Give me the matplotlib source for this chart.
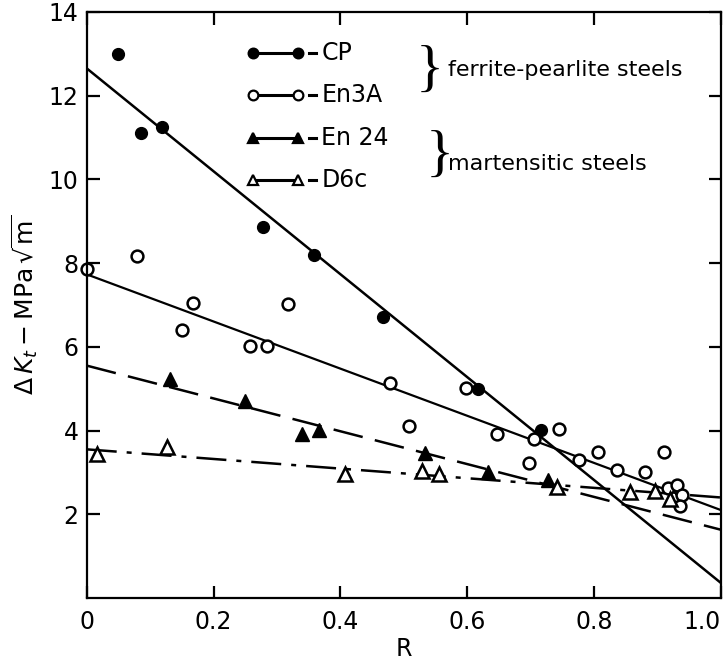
import numpy as np
import matplotlib
matplotlib.use('Agg')
import matplotlib.pyplot as plt

plt.rcParams.update({'font.family': 'DejaVu Sans',
                     'font.size': 16,
                     'axes.linewidth': 1.6,
                     'xtick.direction': 'in',
                     'ytick.direction': 'in',
                     'xtick.major.size': 9,
                     'ytick.major.size': 9,
                     'xtick.major.width': 1.6,
                     'ytick.major.width': 1.6,
                     'xtick.major.pad': 9,
                     'ytick.major.pad': 6,
                     'mathtext.fontset': 'dejavusans'})

# measured points, R vs threshold dK
cp_r = [0.05, 0.085, 0.118, 0.278, 0.358, 0.467, 0.617, 0.716]
cp_k = [13.0, 11.1, 11.25, 8.85, 8.2, 6.72, 5.0, 4.02]

en3a_r = [0.0, 0.079, 0.15, 0.167, 0.257, 0.284, 0.317, 0.478, 0.508, 0.598,
          0.647, 0.697, 0.705, 0.745, 0.776, 0.806, 0.837, 0.88, 0.91,
          0.917, 0.931, 0.938, 0.935]
en3a_k = [7.85, 8.18, 6.41, 7.05, 6.03, 6.03, 7.03, 5.14, 4.11, 5.02,
          3.92, 3.23, 3.8, 4.04, 3.3, 3.49, 3.06, 3.01, 3.49,
          2.63, 2.7, 2.46, 2.2]

en24_r = [0.131, 0.249, 0.339, 0.366, 0.533, 0.633, 0.727]
en24_k = [5.24, 4.71, 3.92, 4.02, 3.47, 3.01, 2.82]

d6c_r = [0.016, 0.126, 0.407, 0.528, 0.555, 0.741, 0.856, 0.896, 0.92]
d6c_k = [3.44, 3.61, 2.97, 3.04, 2.97, 2.66, 2.54, 2.56, 2.37]

# straight-line fits, value at R=0 and R=1
fit_r = [0.0, 1.0]
cp_fit = [12.65, 0.36]
en3a_fit = [7.73, 2.1]
en24_fit = [5.55, 1.63]
d6c_fit = [3.55, 2.4]

fig = plt.figure(figsize=(7.23, 6.6), dpi=100)
ax = fig.add_axes([0.120, 0.094, 0.877, 0.888])

ax.plot(fit_r, cp_fit, 'k-', lw=1.8)
ax.plot(fit_r, en3a_fit, 'k-', lw=1.6)
ax.plot(fit_r, en24_fit, 'k-', lw=1.8, dashes=(12, 5))
ax.plot(fit_r, d6c_fit, 'k-', lw=1.8, dashes=(12, 4, 2, 4))

ax.plot(cp_r, cp_k, 'ko', ms=8.5, ls='none', clip_on=False)
ax.plot(en3a_r, en3a_k, 'o', ms=8.5, mfc='white', mec='k', mew=1.8,
        ls='none', clip_on=False)
ax.plot(en24_r, en24_k, 'k^', ms=9.5, ls='none', clip_on=False)
ax.plot(d6c_r, d6c_k, '^', ms=9.5, mfc='white', mec='k', mew=1.8,
        ls='none', clip_on=False)

ax.set_xlim(0, 1.0)
ax.set_ylim(0, 14)
ax.set_xticks([0, 0.2, 0.4, 0.6, 0.8, 1.0])
ax.set_xticklabels(['0', '0.2', '0.4', '0.6', '0.8', '1.0'])
ax.set_yticks([2, 4, 6, 8, 10, 12, 14])
ax.tick_params(top=True, right=True, labelsize=17)
# last label sits against the right edge of the figure
ax.get_xticklabels()[-1].set_horizontalalignment('right')

ax.set_xlabel('R', fontsize=17, labelpad=2)
ax.set_ylabel(r'$\Delta\,K_t-\mathrm{MPa}\,\sqrt{\mathrm{m}}$', fontsize=18,
              labelpad=6)

# hand-drawn style key
key = [('CP', dict(marker='o', mfc='k', mec='k')),
       ('En3A', dict(marker='o', mfc='white', mec='k')),
       ('En 24', dict(marker='^', mfc='k', mec='k')),
       ('D6c', dict(marker='^', mfc='white', mec='k'))]
for i, (lab, mk) in enumerate(key):
    yy = 0.930 - i * 0.0725
    ax.plot([0.262, 0.333], [yy, yy], color='k', lw=2.2, ms=7, mew=1.6,
            transform=ax.transAxes, **mk)
    ax.plot([0.350, 0.362], [yy, yy], color='k', lw=2.2,
            transform=ax.transAxes)
    ax.text(0.37, yy, lab, transform=ax.transAxes, fontsize=17,
            va='center', ha='left')

# braces grouping the steels
ax.text(0.541, 0.898, '}', transform=ax.transAxes, fontsize=42,
        family='Liberation Serif', va='center', ha='center')
ax.text(0.570, 0.900, 'ferrite-pearlite steels', transform=ax.transAxes,
        fontsize=16, va='center', ha='left')
ax.text(0.557, 0.753, '}', transform=ax.transAxes, fontsize=42,
        family='Liberation Serif', va='center', ha='center')
ax.text(0.570, 0.740, 'martensitic steels', transform=ax.transAxes,
        fontsize=16, va='center', ha='left')

fig.savefig('out.png', dpi=100)
